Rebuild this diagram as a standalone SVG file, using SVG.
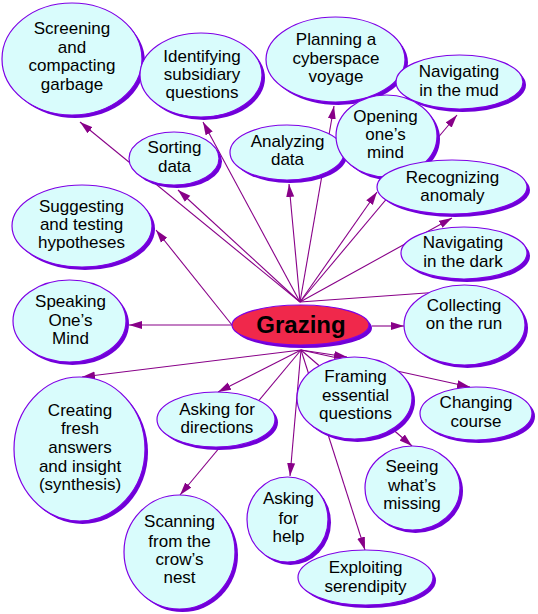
<svg xmlns="http://www.w3.org/2000/svg" width="538" height="614" viewBox="0 0 538 614">
<style>
.sh{fill:#7000d8;stroke:none}
.nd{fill:#d9fcfc;stroke:#7e00e6;stroke-width:1.2}
.gz{fill:#f0284b;stroke:#7e00e6;stroke-width:1.2}
.t{font-family:"Liberation Sans",Arial,sans-serif;font-size:17px;text-anchor:middle;fill:#000}
.tb{font-family:"Liberation Sans",Arial,sans-serif;font-size:24px;font-weight:bold;text-anchor:middle;fill:#000}
.c{stroke:#880088;stroke-width:1.1;fill:none}
.a{marker-end:url(#ah)}
</style>
<defs>
<marker id="ah" markerWidth="14" markerHeight="10" refX="13" refY="5" orient="auto" markerUnits="userSpaceOnUse" viewBox="0 0 14 10">
<path d="M0,1 L13,5 L0,9 z" fill="#880088"/>
</marker>
</defs>
<rect width="538" height="614" fill="#ffffff"/>
<g id="connectors">
<line class="c a" x1="300" y1="302" x2="80" y2="122"/>
<line class="c a" x1="300" y1="302" x2="203" y2="122"/>
<line class="c a" x1="300" y1="302" x2="178" y2="190"/>
<line class="c a" x1="300" y1="302" x2="289" y2="184"/>
<line class="c a" x1="300" y1="302" x2="334" y2="106"/>
<line class="c a" x1="300" y1="302" x2="377" y2="192"/>
<line class="c a" x1="300" y1="302" x2="457" y2="115"/>
<line class="c a" x1="300" y1="302" x2="452" y2="218"/>
<line class="c" x1="300" y1="302" x2="440" y2="292"/>
<line class="c a" x1="232" y1="325" x2="156" y2="230"/>
<line class="c a" x1="232" y1="325" x2="129" y2="325"/>
<line class="c a" x1="372" y1="326" x2="404" y2="326"/>
<line class="c a" x1="301" y1="350" x2="82" y2="377"/>
<line class="c a" x1="301" y1="350" x2="218" y2="392"/>
<line class="c a" x1="301" y1="350" x2="180" y2="495"/>
<line class="c a" x1="301" y1="350" x2="290" y2="476"/>
<line class="c a" x1="301" y1="350" x2="365" y2="550"/>
<line class="c a" x1="301" y1="350" x2="347" y2="357"/>
<line class="c a" x1="301" y1="350" x2="412" y2="446"/>
<line class="c a" x1="301" y1="350" x2="470" y2="387"/>
</g>
<g id="screening">
<ellipse class="sh" cx="75" cy="62" rx="70" ry="56"/>
<ellipse class="nd" cx="72" cy="59" rx="70" ry="56"/>
<text class="t" x="72" y="34">Screening</text>
<text class="t" x="72" y="52.5">and</text>
<text class="t" x="72" y="71">compacting</text>
<text class="t" x="72" y="89.5">garbage</text>
</g>
<g id="identifying">
<ellipse class="sh" cx="204" cy="78" rx="61" ry="42"/>
<ellipse class="nd" cx="201" cy="75" rx="61" ry="42"/>
<text class="t" x="202" y="62">Identifying</text>
<text class="t" x="202" y="80">subsidiary</text>
<text class="t" x="202" y="98">questions</text>
</g>
<g id="planning">
<ellipse class="sh" cx="338.5" cy="62.5" rx="69.5" ry="42.5"/>
<ellipse class="nd" cx="335.5" cy="59.5" rx="69.5" ry="42.5"/>
<text class="t" x="336" y="45">Planning a</text>
<text class="t" x="336" y="64">cyberspace</text>
<text class="t" x="336" y="82">voyage</text>
</g>
<g id="nav-mud">
<ellipse class="sh" cx="462.5" cy="85" rx="63.5" ry="27"/>
<ellipse class="nd" cx="459.5" cy="82" rx="63.5" ry="27"/>
<text class="t" x="459" y="77">Navigating</text>
<text class="t" x="459" y="96">in the mud</text>
</g>
<g id="analyzing">
<ellipse class="sh" cx="290" cy="155.5" rx="57" ry="27.5"/>
<ellipse class="nd" cx="287" cy="152.5" rx="57" ry="27.5"/>
<text class="t" x="287.5" y="147">Analyzing</text>
<text class="t" x="287.5" y="165">data</text>
</g>
<g id="opening">
<ellipse class="sh" cx="389.5" cy="139" rx="50.5" ry="41"/>
<ellipse class="nd" cx="386.5" cy="136" rx="50.5" ry="41"/>
<text class="t" x="385.5" y="122">Opening</text>
<text class="t" x="385.5" y="140">one’s</text>
<text class="t" x="385.5" y="158">mind</text>
</g>
<g id="sorting">
<ellipse class="sh" cx="177" cy="161.5" rx="45" ry="26.5"/>
<ellipse class="nd" cx="174" cy="158.5" rx="45" ry="26.5"/>
<text class="t" x="174.5" y="153">Sorting</text>
<text class="t" x="174.5" y="172">data</text>
</g>
<g id="recognizing">
<ellipse class="sh" cx="455" cy="190" rx="75" ry="27"/>
<ellipse class="nd" cx="452" cy="187" rx="75" ry="27"/>
<text class="t" x="452.5" y="182.5">Recognizing</text>
<text class="t" x="452.5" y="201">anomaly</text>
</g>
<g id="nav-dark">
<ellipse class="sh" cx="467" cy="256" rx="63" ry="26"/>
<ellipse class="nd" cx="464" cy="253" rx="63" ry="26"/>
<text class="t" x="463" y="248">Navigating</text>
<text class="t" x="463" y="267">in the dark</text>
</g>
<g id="suggesting">
<ellipse class="sh" cx="85" cy="229" rx="70" ry="41"/>
<ellipse class="nd" cx="82" cy="226" rx="70" ry="41"/>
<text class="t" x="81.5" y="212">Suggesting</text>
<text class="t" x="81.5" y="230">and testing</text>
<text class="t" x="81.5" y="248">hypotheses</text>
</g>
<g id="speaking">
<ellipse class="sh" cx="72.5" cy="324" rx="56.5" ry="41"/>
<ellipse class="nd" cx="69.5" cy="321" rx="56.5" ry="41"/>
<text class="t" x="70.5" y="307">Speaking</text>
<text class="t" x="70.5" y="326">One’s</text>
<text class="t" x="70.5" y="344">Mind</text>
</g>
<g id="collecting">
<ellipse class="sh" cx="467.5" cy="328" rx="60.5" ry="40"/>
<ellipse class="nd" cx="464.5" cy="325" rx="60.5" ry="40"/>
<text class="t" x="464" y="311">Collecting</text>
<text class="t" x="464" y="329">on the run</text>
</g>
<g id="grazing">
<ellipse class="sh" cx="303.5" cy="328" rx="68.5" ry="20"/>
<ellipse class="gz" cx="300.5" cy="325" rx="68.5" ry="20"/>
<text class="tb" x="301" y="333">Grazing</text>
</g>
<g id="framing">
<ellipse class="sh" cx="357.5" cy="401" rx="57.5" ry="41"/>
<ellipse class="nd" cx="354.5" cy="398" rx="57.5" ry="41"/>
<text class="t" x="355.5" y="382">Framing</text>
<text class="t" x="355.5" y="401">essential</text>
<text class="t" x="355.5" y="419">questions</text>
</g>
<g id="changing">
<ellipse class="sh" cx="479" cy="416.5" rx="56" ry="26.5"/>
<ellipse class="nd" cx="476" cy="413.5" rx="56" ry="26.5"/>
<text class="t" x="476" y="408">Changing</text>
<text class="t" x="476" y="427">course</text>
</g>
<g id="seeing">
<ellipse class="sh" cx="415.5" cy="491" rx="47.5" ry="42"/>
<ellipse class="nd" cx="412.5" cy="488" rx="47.5" ry="42"/>
<text class="t" x="412" y="472">Seeing</text>
<text class="t" x="412" y="491">what’s</text>
<text class="t" x="412" y="509">missing</text>
</g>
<g id="asking-help">
<ellipse class="sh" cx="290.5" cy="522.5" rx="40.5" ry="42.5"/>
<ellipse class="nd" cx="287.5" cy="519.5" rx="40.5" ry="42.5"/>
<text class="t" x="288.5" y="504">Asking</text>
<text class="t" x="288.5" y="524">for</text>
<text class="t" x="288.5" y="542">help</text>
</g>
<g id="exploiting">
<ellipse class="sh" cx="368.5" cy="580.5" rx="67.5" ry="27.5"/>
<ellipse class="nd" cx="365.5" cy="577.5" rx="67.5" ry="27.5"/>
<text class="t" x="365.5" y="573">Exploiting</text>
<text class="t" x="365.5" y="592">serendipity</text>
</g>
<g id="asking-directions">
<ellipse class="sh" cx="219" cy="422.5" rx="59" ry="27.5"/>
<ellipse class="nd" cx="216" cy="419.5" rx="59" ry="27.5"/>
<text class="t" x="217" y="415">Asking for</text>
<text class="t" x="217" y="433">directions</text>
</g>
<g id="creating">
<ellipse class="sh" cx="82.5" cy="452" rx="65.5" ry="72"/>
<ellipse class="nd" cx="79.5" cy="449" rx="65.5" ry="72"/>
<text class="t" x="80" y="416">Creating</text>
<text class="t" x="80" y="434">fresh</text>
<text class="t" x="80" y="453">answers</text>
<text class="t" x="80" y="472">and insight</text>
<text class="t" x="80" y="490">(synthesis)</text>
</g>
<g id="scanning">
<ellipse class="sh" cx="182.5" cy="555" rx="55.5" ry="57"/>
<ellipse class="nd" cx="179.5" cy="552" rx="55.5" ry="57"/>
<text class="t" x="179.5" y="527">Scanning</text>
<text class="t" x="179.5" y="547">from the</text>
<text class="t" x="179.5" y="565">crow’s</text>
<text class="t" x="179.5" y="583">nest</text>
</g>
</svg>
